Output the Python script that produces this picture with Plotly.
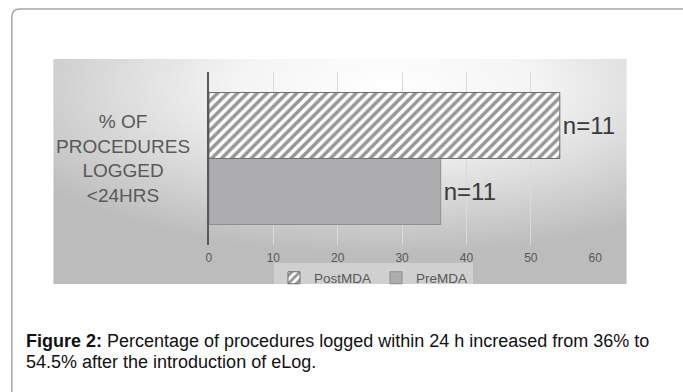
import base64
import plotly.graph_objects as go

W, H = 683, 392

# ---- data ----
categories = ["% OF PROCEDURES LOGGED <24HRS"]
series_names = ["PreMDA", "PostMDA"]
pre_values = [36]
post_values = [54.5]
bar_labels = ["n=11"]
x_ticks = [0, 10, 20, 30, 40, 50, 60]
caption_bold = "Figure 2:"
caption_line1 = "Percentage of procedures logged within 24 h increased from 36% to"
caption_line2 = "54.5% after the introduction of eLog."


def px(x):
    return x / W


def py(y):
    return 1 - y / H


label_font = dict(family="Liberation Sans, Arial, sans-serif", size=24, color="#3a3a3a")

fig = go.Figure()
fig.add_trace(go.Bar(
    y=categories, x=pre_values, name=series_names[0], orientation="h",
    marker=dict(color="#adadaf", line=dict(color="#8e8e90", width=1)),
    text=bar_labels, textposition="outside", constraintext="none", cliponaxis=False,
    textfont=label_font,
))
fig.add_trace(go.Bar(
    y=categories, x=post_values, name=series_names[1], orientation="h",
    marker=dict(color="white", line=dict(color="#6e6e6e", width=1),
                pattern=dict(shape="/", fgcolor="#2e2e2e", bgcolor="white",
                             size=7, solidity=0.5)),
    text=bar_labels, textposition="outside", constraintext="none", cliponaxis=False,
    textfont=label_font,
))

# gradient panel background
svg = (
    "<svg xmlns='http://www.w3.org/2000/svg' width='582' height='225' preserveAspectRatio='none'>"
    "<defs><radialGradient id='g' cx='0.58' cy='0.12' r='0.75'>"
    "<stop offset='0' stop-color='#ffffff'/>"
    "<stop offset='0.35' stop-color='#f4f4f4'/>"
    "<stop offset='1' stop-color='#bcbcbc'/>"
    "</radialGradient></defs>"
    "<rect width='582' height='225' fill='url(#g)'/></svg>"
)
src = "data:image/svg+xml;base64," + base64.b64encode(svg.encode()).decode()

fig.update_layout(
    width=W, height=H,
    margin=dict(l=0, r=0, t=0, b=0),
    paper_bgcolor="white", plot_bgcolor="rgba(0,0,0,0)",
    barmode="group", bargap=0.237, bargroupgap=0,
    showlegend=True,
    legend=dict(orientation="h", x=px(376), y=py(278), xanchor="center", yanchor="middle",
                traceorder="reversed", bgcolor="rgba(255,255,255,0.3)",
                font=dict(family="Liberation Sans, Arial, sans-serif",
                          size=13.5, color="#595959"),
                itemwidth=30, tracegroupgap=0),
    xaxis=dict(domain=[px(209), px(601)], range=[0, 60], tickvals=x_ticks,
               showgrid=True, gridcolor="#dadada", gridwidth=1, zeroline=False,
               showline=False, ticks="", ticklabelstandoff=4,
               tickfont=dict(family="Liberation Sans, Arial, sans-serif", size=12, color="#595959")),
    yaxis=dict(domain=[py(245), py(72)], showticklabels=False, showline=True,
               linecolor="#595959", linewidth=1.5, ticks="", showgrid=False),
    images=[dict(source=src, xref="paper", yref="paper", x=px(51), y=py(59),
                 sizex=px(633) - px(51), sizey=py(59) - py(284), sizing="stretch",
                 xanchor="left", yanchor="top", layer="below")],
)

# category label
fig.add_annotation(
    x=px(122), y=categories[0], xref="paper", yref="y", showarrow=False,
    text="% OF<br>PROCEDURES<br>LOGGED<br>&lt;24HRS", align="center",
    xanchor="center", yanchor="middle",
    font=dict(family="Liberation Sans, Arial, sans-serif", size=19, color="#595959"),
)

# caption
cap_font = dict(family="Liberation Sans, Arial, sans-serif", size=18, color="#111111")
fig.add_annotation(
    x=px(21), y=py(341), xref="paper", yref="paper", showarrow=False,
    text="<b>" + caption_bold + "</b> " + caption_line1, align="left",
    xanchor="left", yanchor="middle", font=cap_font,
)
fig.add_annotation(
    x=px(21), y=py(362), xref="paper", yref="paper", showarrow=False,
    text=caption_line2, align="left",
    xanchor="left", yanchor="middle", font=cap_font,
)

# outer rounded border (left and top edges)
r = 8
path = (f"M {px(9)},{py(400)} L {px(9)},{py(9 + r)} Q {px(9)},{py(9)} {px(9 + r)},{py(9)} "
        f"L {px(700)},{py(9)}")
fig.add_shape(type="path", path=path, xref="paper", yref="paper",
              line=dict(color="#a8a8a8", width=1.5))

fig.write_html(
    "out.html",
    config={"displayModeBar": False},
    post_script="document.body.style.margin='0';document.body.style.overflow='hidden';",
)
